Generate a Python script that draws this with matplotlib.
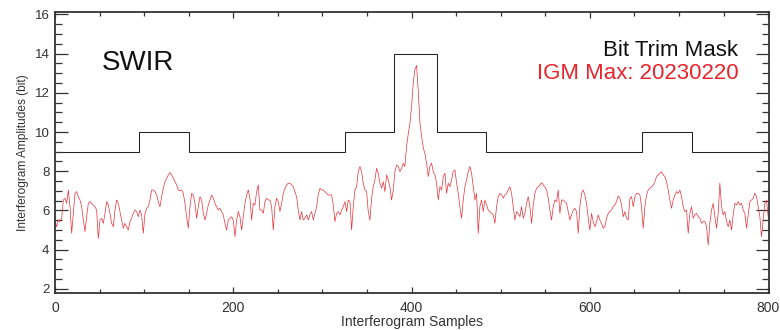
import numpy as np
import matplotlib
matplotlib.use('Agg')
import matplotlib.pyplot as plt
from matplotlib.ticker import MultipleLocator

plt.rcParams['font.family'] = ['Liberation Sans', 'DejaVu Sans']

# IGM max amplitude (bit), four consecutive chunks of samples
igm_part1 = [5.43, 5.17, 5.51, 5.43, 5.60, 6.53, 6.62, 6.36, 7.04, 6.19, 4.83, 5.85, 6.87, 6.96, 6.70, 6.53,
             6.19, 5.51, 4.92, 5.68, 6.36, 6.45, 6.36, 6.28, 6.19, 6.02, 4.57, 5.51, 5.60, 5.34, 5.85, 6.45,
             6.28, 5.85, 5.34, 5.17, 6.02, 6.53, 6.36, 5.94, 5.51, 5.09, 5.34, 5.17, 5.00, 5.43, 5.60, 5.85,
             6.02, 5.94, 5.68, 6.02, 5.77, 4.83, 5.85, 6.11, 6.19, 6.53, 7.04, 7.04, 6.96, 6.79, 6.45, 6.19,
             6.70, 7.13, 7.47, 7.64, 7.81, 7.93, 7.81, 7.64, 7.47, 7.30, 7.04, 7.01, 7.04, 6.87, 6.36, 5.68,
             5.09, 6.19, 6.87, 6.79, 6.36, 5.60, 6.19, 6.70, 6.53, 5.85, 5.51, 5.85, 6.28, 6.53, 6.79, 6.62,
             6.36, 6.19, 6.02, 6.11, 5.94, 5.77, 5.34, 5.00, 5.51, 5.60, 5.68, 5.51]
igm_part2 = [4.66, 5.51, 5.94, 5.68, 5.00, 5.68, 6.36, 6.79, 7.04, 6.62, 5.51, 6.36, 6.28, 6.96, 7.30, 6.02,
             6.02, 5.85, 6.45, 6.62, 6.53, 6.53, 6.19, 5.00, 6.19, 6.62, 6.45, 5.94, 6.36, 6.87, 7.13, 7.30,
             7.39, 7.39, 7.30, 7.21, 6.96, 6.70, 6.02, 5.51, 5.94, 5.51, 5.60, 5.77, 5.51, 5.77, 5.94, 5.51,
             5.85, 6.19, 6.79, 7.13, 7.04, 7.04, 6.96, 6.87, 6.79, 6.79, 6.79, 6.28, 5.43, 5.85, 5.94, 5.77,
             6.02, 6.19, 6.45, 5.94, 6.53, 6.45, 5.00, 6.19, 7.04, 7.21, 7.98, 8.24, 7.98, 7.39, 7.04, 6.96,
             5.94, 5.51, 6.62, 7.21, 7.56, 8.15, 7.90, 7.39, 7.13, 7.47, 6.96, 7.81, 7.56, 7.21, 6.53, 7.04,
             7.98, 8.32, 8.24, 7.98, 8.15, 8.41, 8.24, 9.30, 9.90, 10.45, 11.30, 12.50]
igm_part3 = [13.20, 13.40, 12.10, 10.50, 9.80, 9.20, 8.90, 8.41, 7.73, 8.24, 8.41, 7.98, 7.81, 7.39, 6.53, 7.21,
             7.04, 7.73, 7.90, 6.87, 7.39, 7.21, 7.56, 7.98, 8.07, 7.39, 6.87, 6.19, 5.60, 6.53, 7.21, 7.56,
             7.98, 8.24, 7.90, 7.21, 6.53, 6.87, 4.83, 6.19, 6.53, 5.94, 6.53, 6.28, 6.02, 5.94, 5.85, 5.77,
             5.34, 6.19, 6.70, 6.87, 6.79, 6.62, 6.79, 6.87, 7.04, 7.21, 6.87, 6.19, 5.51, 5.94, 5.85, 5.68,
             6.19, 5.60, 5.85, 6.36, 6.70, 6.19, 5.34, 6.28, 6.87, 7.13, 7.21, 7.30, 7.42, 7.30, 7.21, 7.04,
             6.62, 6.02, 5.51, 6.19, 6.53, 6.45, 7.04, 5.85, 6.53, 6.53, 6.45, 6.36, 5.94, 5.51, 5.77, 6.02,
             6.11, 5.94, 4.83, 6.19, 6.87, 7.04, 6.79, 6.36, 5.60, 5.00, 5.85, 5.43]
igm_part4 = [5.17, 5.43, 5.77, 5.51, 5.34, 5.09, 5.17, 5.60, 5.85, 5.94, 6.02, 6.19, 6.28, 6.45, 6.74, 6.62,
             6.28, 5.68, 5.94, 5.60, 5.51, 6.62, 6.70, 6.19, 6.70, 6.87, 6.87, 6.79, 6.19, 5.09, 6.19, 6.79,
             7.04, 7.13, 7.21, 7.30, 7.47, 7.73, 7.81, 7.90, 7.98, 7.81, 7.73, 7.47, 7.04, 6.53, 6.11, 6.53,
             6.79, 6.96, 6.87, 7.04, 6.70, 6.19, 5.94, 6.02, 4.83, 5.85, 6.19, 5.60, 5.77, 5.85, 5.68, 5.60,
             5.34, 5.43, 5.43, 5.17, 4.23, 5.34, 6.02, 6.36, 5.68, 5.09, 5.85, 7.39, 6.19, 5.77, 5.94, 5.43,
             5.17, 5.51, 5.00, 5.77, 6.36, 6.28, 6.45, 6.28, 6.36, 6.02, 5.85, 5.09, 5.77, 6.45, 6.53, 6.62,
             6.87, 6.70, 6.19, 5.68, 4.66, 5.51, 6.36, 6.53, 5.68]

# bit trim mask: step edges (samples) and level (bit)
mask_edges = [0, 94, 150, 325, 380, 429, 484, 659, 714, 802]
mask_levels = [9, 10, 9, 10, 14, 10, 9, 10, 9]

igm = np.array(igm_part1 + igm_part2 + igm_part3 + igm_part4)
samples = np.linspace(0, 800, len(igm))

fig = plt.figure(figsize=(7.8, 3.3), dpi=100)
ax = fig.add_axes([0.0705, 0.113, 0.9155, 0.852])

ax.stairs(mask_levels, mask_edges, baseline=None, color='#222222', lw=0.75)
ax.plot(samples, igm, color='#e8303a', lw=0.5)

ax.set_xlim(0, 801)
ax.set_ylim(1.8, 16.15)
ax.xaxis.set_major_locator(MultipleLocator(200))
ax.xaxis.set_minor_locator(MultipleLocator(50))
ax.yaxis.set_major_locator(MultipleLocator(2))
ax.yaxis.set_minor_locator(MultipleLocator(0.5))
ax.tick_params(axis='both', which='both', direction='in', top=True, right=True,
               color='#333333', width=0.9, labelcolor='#333333')
ax.tick_params(axis='x', which='major', length=4.5, labelsize=10, pad=6)
ax.tick_params(axis='x', which='minor', length=3)
ax.tick_params(axis='y', which='major', length=9.5, labelsize=9.5, pad=4)
ax.tick_params(axis='y', which='minor', length=5)
for s in ax.spines.values():
    s.set_linewidth(1.3)
    s.set_color('#333333')

ax.set_xlabel('Interferogram Samples', fontsize=10, color='#333333', labelpad=0)
ax.set_ylabel('Interferogram Amplitudes (bit)', fontsize=8.6, color='#333333', labelpad=4)

ax.text(0.065, 0.793, 'SWIR', transform=ax.transAxes, fontsize=20, color='#111111',
        ha='left', va='baseline')
ax.text(0.957, 0.843, 'Bit Trim Mask', transform=ax.transAxes, fontsize=16, color='#111111',
        ha='right', va='baseline')
ax.text(0.957, 0.760, 'IGM Max: 20230220', transform=ax.transAxes, fontsize=16, color='#e8242c',
        ha='right', va='baseline')

fig.savefig('out.png', dpi=100)
